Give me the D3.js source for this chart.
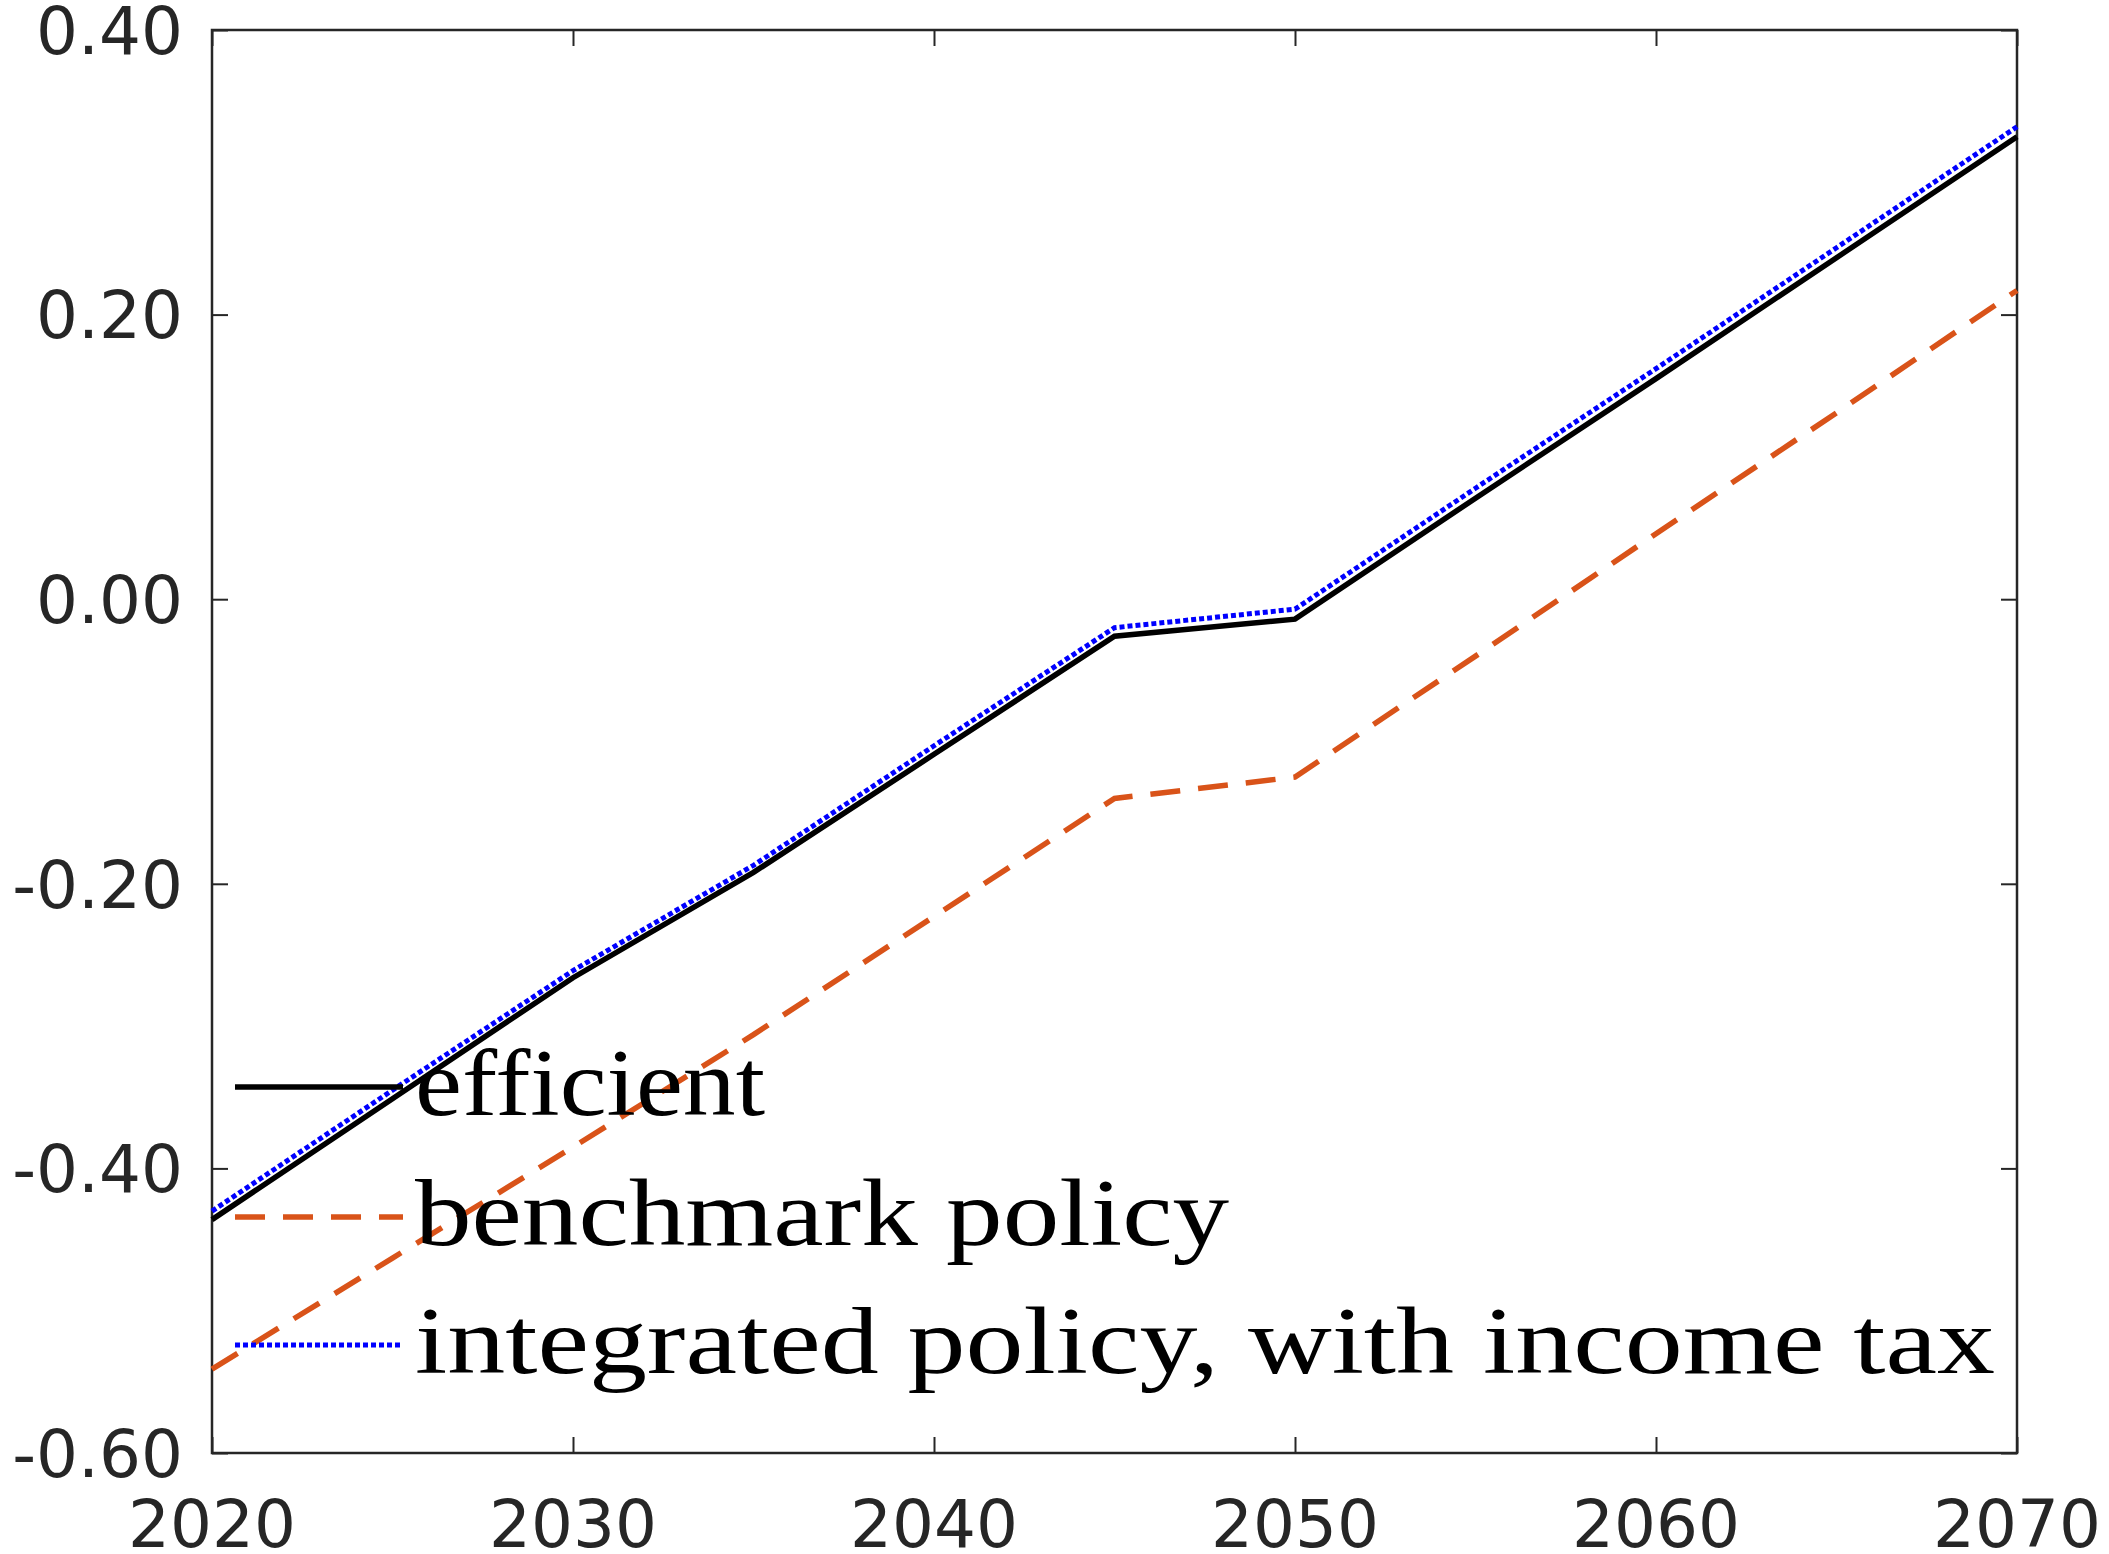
<!DOCTYPE html>
<html><head><meta charset="utf-8">
<script src="https://d3js.org/d3.v7.min.js"></script>
<style>body{margin:0;background:#fff}</style>
</head><body><div id="chart"></div>
<script>
const years = [2020, 2025, 2030, 2035, 2040, 2045, 2050, 2055, 2060, 2065, 2070];
const efficient = [-0.436, -0.351, -0.266, -0.192, -0.109, -0.026, -0.014, 0.071, 0.155, 0.240, 0.325];
const benchmark = [-0.541, -0.463, -0.385, -0.306, -0.223, -0.140, -0.125, -0.040, 0.046, 0.131, 0.217];
const integrated = [-0.430, -0.345, -0.261, -0.187, -0.103, -0.020, -0.007, 0.078, 0.162, 0.247, 0.332];
const yTicks = [-0.6, -0.4, -0.2, 0, 0.2, 0.4];
const xTicks = [2020, 2030, 2040, 2050, 2060, 2070];
const legendLabels = ["efficient", "benchmark policy", "integrated policy, with income tax"];

const W = 2109, H = 1554;
const m = {left: 212, right: 2017, top: 30, bottom: 1453};
const svg = d3.select("#chart").append("svg").attr("width", W).attr("height", H);
const x = d3.scaleLinear().domain([2020, 2070]).range([m.left, m.right]);
const y = d3.scaleLinear().domain([-0.6, 0.4]).range([m.bottom, m.top]);
const ax = "#262626";

// box and inward ticks
svg.append("rect").attr("x", m.left).attr("y", m.top).attr("width", m.right - m.left)
  .attr("height", m.bottom - m.top).attr("fill", "none").attr("stroke", ax).attr("stroke-width", 2.5);
const tl = 16;
svg.append("g").attr("transform", `translate(0,${m.bottom})`)
  .call(d3.axisTop(x).tickValues(xTicks).tickSize(tl).tickFormat(""))
  .call(g => g.select(".domain").remove());
svg.append("g").attr("transform", `translate(0,${m.top})`)
  .call(d3.axisBottom(x).tickValues(xTicks).tickSize(tl).tickFormat(""))
  .call(g => g.select(".domain").remove());
svg.append("g").attr("transform", `translate(${m.left},0)`)
  .call(d3.axisRight(y).tickValues(yTicks).tickSize(tl).tickFormat(""))
  .call(g => g.select(".domain").remove());
svg.append("g").attr("transform", `translate(${m.right},0)`)
  .call(d3.axisLeft(y).tickValues(yTicks).tickSize(tl).tickFormat(""))
  .call(g => g.select(".domain").remove());
svg.selectAll(".tick line").attr("stroke", ax).attr("stroke-width", 2);

// tick labels
svg.selectAll(".ylab").data(yTicks).enter().append("text")
  .attr("x", 183).attr("y", d => y(d)).attr("dy", "0.36em").attr("text-anchor", "end")
  .attr("font-family", "DejaVu Sans").attr("font-size", 66).attr("fill", ax)
  .text(d => d3.format(".2f")(d).replace("−", "-"));
svg.selectAll(".xlab").data(xTicks).enter().append("text")
  .attr("x", d => x(d)).attr("y", 1547).attr("text-anchor", "middle")
  .attr("font-family", "DejaVu Sans").attr("font-size", 66).attr("fill", ax)
  .text(d => d);

const line = d3.line().x((d, i) => x(years[i])).y(d => y(d));
const styles = [
  {data: efficient, color: "#000000", dash: null, w: 5.5},
  {data: benchmark, color: "#d95319", dash: "30,18", w: 5.5},
  {data: integrated, color: "#0000ff", dash: "5,3", w: 5}
];
styles.forEach(s => {
  svg.append("path").datum(s.data).attr("d", line).attr("fill", "none")
    .attr("stroke", s.color).attr("stroke-width", s.w)
    .attr("stroke-dasharray", s.dash);
});

// legend
const ly = [1087, 1217, 1345];
const lw = [350, 814, 1580];
styles.forEach((s, i) => {
  svg.append("line").attr("x1", 235).attr("x2", 403).attr("y1", ly[i]).attr("y2", ly[i])
    .attr("stroke", s.color).attr("stroke-width", s.w).attr("stroke-dasharray", s.dash);
  svg.append("text").attr("x", 415).attr("y", ly[i] + 28)
    .attr("font-family", "Liberation Serif").attr("font-size", 96).attr("fill", "#000")
    .attr("textLength", lw[i]).attr("lengthAdjust", "spacingAndGlyphs")
    .text(legendLabels[i]);
});
</script></body></html>
